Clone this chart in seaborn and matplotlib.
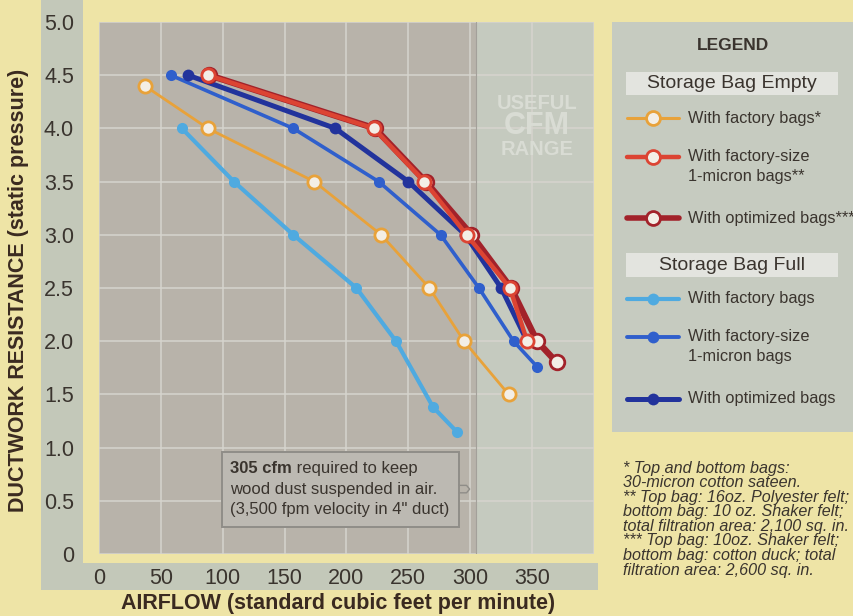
import matplotlib
matplotlib.use("Agg")
import matplotlib.pyplot as plt
from matplotlib.patches import Rectangle
import pandas as pd
import seaborn as sns

# ---- measured airflow (cfm) vs. static pressure for each setup ----
empty_factory_cfm = [37, 88, 174, 228, 267, 295, 331]
empty_factory_sp = [4.4, 4.0, 3.5, 3.0, 2.5, 2.0, 1.5]

empty_micron_cfm = [88, 222, 263, 297, 332, 346]
empty_micron_sp = [4.5, 4.0, 3.5, 3.0, 2.5, 2.0]

empty_optimized_cfm = [89, 223, 264, 301, 333, 354, 370]
empty_optimized_sp = [4.5, 4.0, 3.5, 3.0, 2.5, 2.0, 1.8]

full_factory_cfm = [67, 109, 157, 208, 240, 270, 289]
full_factory_sp = [4.0, 3.5, 3.0, 2.5, 2.0, 1.38, 1.15]

full_micron_cfm = [58, 157, 226, 276, 307, 335, 354]
full_micron_sp = [4.5, 4.0, 3.5, 3.0, 2.5, 2.0, 1.76]

full_optimized_cfm = [72, 191, 250, 296, 325, 346]
full_optimized_sp = [4.5, 4.0, 3.5, 3.0, 2.5, 2.0]

x_ticks = [0, 50, 100, 150, 200, 250, 300, 350]
y_ticks = [0, 0.5, 1.0, 1.5, 2.0, 2.5, 3.0, 3.5, 4.0, 4.5, 5.0]
y_tick_labels = ["0", "0.5", "1.0", "1.5", "2.0", "2.5", "3.0", "3.5", "4.0", "4.5", "5.0"]
min_useful_cfm = 305

# ---- styling ----
sns.set_style("white")
plt.rcParams["font.family"] = ["Liberation Sans", "DejaVu Sans"]

YELLOW = "#eee4a6"
BAND = "#c3c8b9"
PLOT_DARK = "#b8b3aa"
PLOT_LIGHT = "#c5cabf"
PANEL = "#c6cbc0"
TEXT = "#3a342e"
LABEL = "#3a2a20"

C_ORANGE = "#e8a23a"
C_RED = "#dc4433"
C_DKRED = "#a2222a"
C_LTBLUE = "#4faae0"
C_BLUE = "#2f5fcc"
C_NAVY = "#22339c"
FILL = "#f3eee6"

W, H = 854, 616
fig = plt.figure(figsize=(W / 100, H / 100), dpi=100, facecolor=YELLOW)


def fbox(x0, y0, x1, y1):
    """Pixel box (top-left origin) -> figure fraction rect."""
    return [x0 / W, 1 - y1 / H, (x1 - x0) / W, (y1 - y0) / H]


# grey-green tick-label bands
for x0, y0, x1, y1 in [(41, 0, 83, 590), (41, 563, 598, 590)]:
    l, b, w, h = fbox(x0, y0, x1, y1)
    fig.add_artist(Rectangle((l, b), w, h, transform=fig.transFigure,
                             facecolor=BAND, edgecolor="none", zorder=0))

ax = fig.add_axes(fbox(99, 22, 594, 554))
ax.set_facecolor(PLOT_DARK)
ax.axvspan(min_useful_cfm, 400, color=PLOT_LIGHT, zorder=0, lw=0)
ax.axvline(min_useful_cfm, color="#a3a09a", lw=0.8, zorder=0.6)
ax.set_axisbelow(True)
ax.grid(True, color="#d6d4ce", lw=1.1)
ax.set_xlim(0, 400)
ax.set_ylim(0, 5)
ax.set_xticks(x_ticks + [400])
ax.set_xticklabels([str(v) for v in x_ticks] + [""])
ax.set_yticks(y_ticks)
ax.set_yticklabels(y_tick_labels)
ax.tick_params(length=0, labelsize=15.5, labelcolor=TEXT)
ax.tick_params(axis="y", pad=18)
ax.tick_params(axis="x", pad=10)
for s in ax.spines.values():
    s.set_visible(False)

# ---- series ----
empty_kw = dict(marker="o", markerfacecolor=FILL, markeredgewidth=2.0)
series = [
    (full_factory_cfm, full_factory_sp, C_LTBLUE, 3.0,
     dict(marker="o", markersize=8, markerfacecolor=C_LTBLUE, markeredgewidth=0)),
    (empty_factory_cfm, empty_factory_sp, C_ORANGE, 2.0,
     dict(markersize=9.5, markeredgecolor=C_ORANGE, **empty_kw)),
    (full_micron_cfm, full_micron_sp, C_BLUE, 2.6,
     dict(marker="o", markersize=8, markerfacecolor=C_BLUE, markeredgewidth=0)),
    (full_optimized_cfm, full_optimized_sp, C_NAVY, 3.6,
     dict(marker="o", markersize=8.5, markerfacecolor=C_NAVY, markeredgewidth=0)),
    (empty_optimized_cfm, empty_optimized_sp, C_DKRED, 4.6,
     dict(markersize=10.5, markeredgecolor=C_DKRED, **empty_kw)),
    (empty_micron_cfm, empty_micron_sp, C_RED, 3.2,
     dict(markersize=9.5, markeredgecolor=C_RED, **empty_kw)),
]
for i, (xs, ys, color, lw, mk) in enumerate(series):
    df = pd.DataFrame({"cfm": xs, "sp": ys})
    sns.lineplot(data=df, x="cfm", y="sp", ax=ax, color=color, lw=lw,
                 sort=False, zorder=3 + i, **mk)

ax.set_xlabel("AIRFLOW (standard cubic feet per minute)", fontsize=15.5,
              fontweight="bold", color=LABEL, va="center")
ax.xaxis.set_label_coords((338 - 99) / 495, -(603 - 554) / 532)
ax.set_ylabel("DUCTWORK RESISTANCE (static pressure)", fontsize=15.5,
              fontweight="bold", color=LABEL, va="center")
ax.yaxis.set_label_coords((19 - 99) / 495, (554 - 290) / 532)

# "useful range" watermark
wm = dict(color="#d9dcd4", fontweight="bold", ha="center", va="center", zorder=1)
ax.text(354, 4.23, "USEFUL", fontsize=14.5, **wm)
ax.text(354, 4.02, "CFM", fontsize=22, **wm)
ax.text(354, 3.80, "RANGE", fontsize=14.5, **wm)

# note box about minimum air velocity
NOTE_FS = 12
ax.add_patch(Rectangle((99, 0.25), 192, 0.71, facecolor="#bcb9b2",
                       edgecolor="#8f8d88", lw=1.4, zorder=2))
bold = ax.text(106, 0.80, "305 cfm", fontsize=NOTE_FS, fontweight="bold",
               color=TEXT, va="center", zorder=3)
ax.annotate(" required to keep", xy=(1, 0), xycoords=bold, fontsize=NOTE_FS,
            color=TEXT, va="bottom", ha="left", zorder=3)
ax.text(106, 0.61, "wood dust suspended in air.", fontsize=NOTE_FS,
        color=TEXT, va="center", zorder=3)
ax.text(106, 0.42, "(3,500 fpm velocity in 4\" duct)", fontsize=NOTE_FS,
        color=TEXT, va="center", zorder=3)
ax.plot([291, 297, 299.5, 297, 291], [0.645, 0.645, 0.61, 0.575, 0.575],
        color="#8f8d88", lw=1.0, zorder=3)

# ---- legend panel ----
lax = fig.add_axes(fbox(612, 22, 854, 432))
lax.set_facecolor(PANEL)
lax.set_xlim(612, 854)
lax.set_ylim(432, 22)
lax.set_xticks([])
lax.set_yticks([])
for s in lax.spines.values():
    s.set_visible(False)

lax.text(733, 46, "LEGEND", fontsize=12.5, fontweight="bold", color=TEXT,
         ha="center", va="center")
for y0, y1, title in [(72, 95, "Storage Bag Empty"), (253, 277, "Storage Bag Full")]:
    lax.add_patch(Rectangle((626, y0), 212, y1 - y0, facecolor="#e3e4df",
                            edgecolor="none"))
    lax.text(732, (y0 + y1) / 2, title, fontsize=14, color=TEXT,
             ha="center", va="center")

LEG_FS = 11.8
entries = [
    (118, C_ORANGE, 2.2, True, 10, ["With factory bags*"]),
    (157, C_RED, 3.2, True, 10, ["With factory-size", "1-micron bags**"]),
    (218, C_DKRED, 4.0, True, 10, ["With optimized bags***"]),
    (299, C_LTBLUE, 3.0, False, 8.5, ["With factory bags"]),
    (337, C_BLUE, 2.8, False, 8.5, ["With factory-size", "1-micron bags"]),
    (399, C_NAVY, 3.6, False, 8.5, ["With optimized bags"]),
]
for y, lc, lw, hollow, ms, lines in entries:
    lax.plot([627, 679], [y, y], color=lc, lw=lw, solid_capstyle="round")
    lax.plot([653], [y], marker="o", markersize=ms,
             markerfacecolor=FILL if hollow else lc, markeredgecolor=lc,
             markeredgewidth=2.0 if hollow else 0)
    for k, line in enumerate(lines):
        lax.text(688, y + 20 * k, line, fontsize=LEG_FS, color=TEXT,
                 ha="left", va="center")

# ---- footnotes ----
notes = [
    "* Top and bottom bags:",
    "30-micron cotton sateen.",
    "** Top bag: 16oz. Polyester felt;",
    "bottom bag: 10 oz. Shaker felt;",
    "total filtration area: 2,100 sq. in.",
    "*** Top bag: 10oz. Shaker felt;",
    "bottom bag: cotton duck; total",
    "filtration area: 2,600 sq. in.",
]
for i, line in enumerate(notes):
    fig.text(623 / W, 1 - (468 + i * 14.6) / H, line, fontsize=11.6,
             style="italic", color=TEXT, ha="left", va="center")

fig.savefig("out.png", dpi=100, facecolor=fig.get_facecolor())
